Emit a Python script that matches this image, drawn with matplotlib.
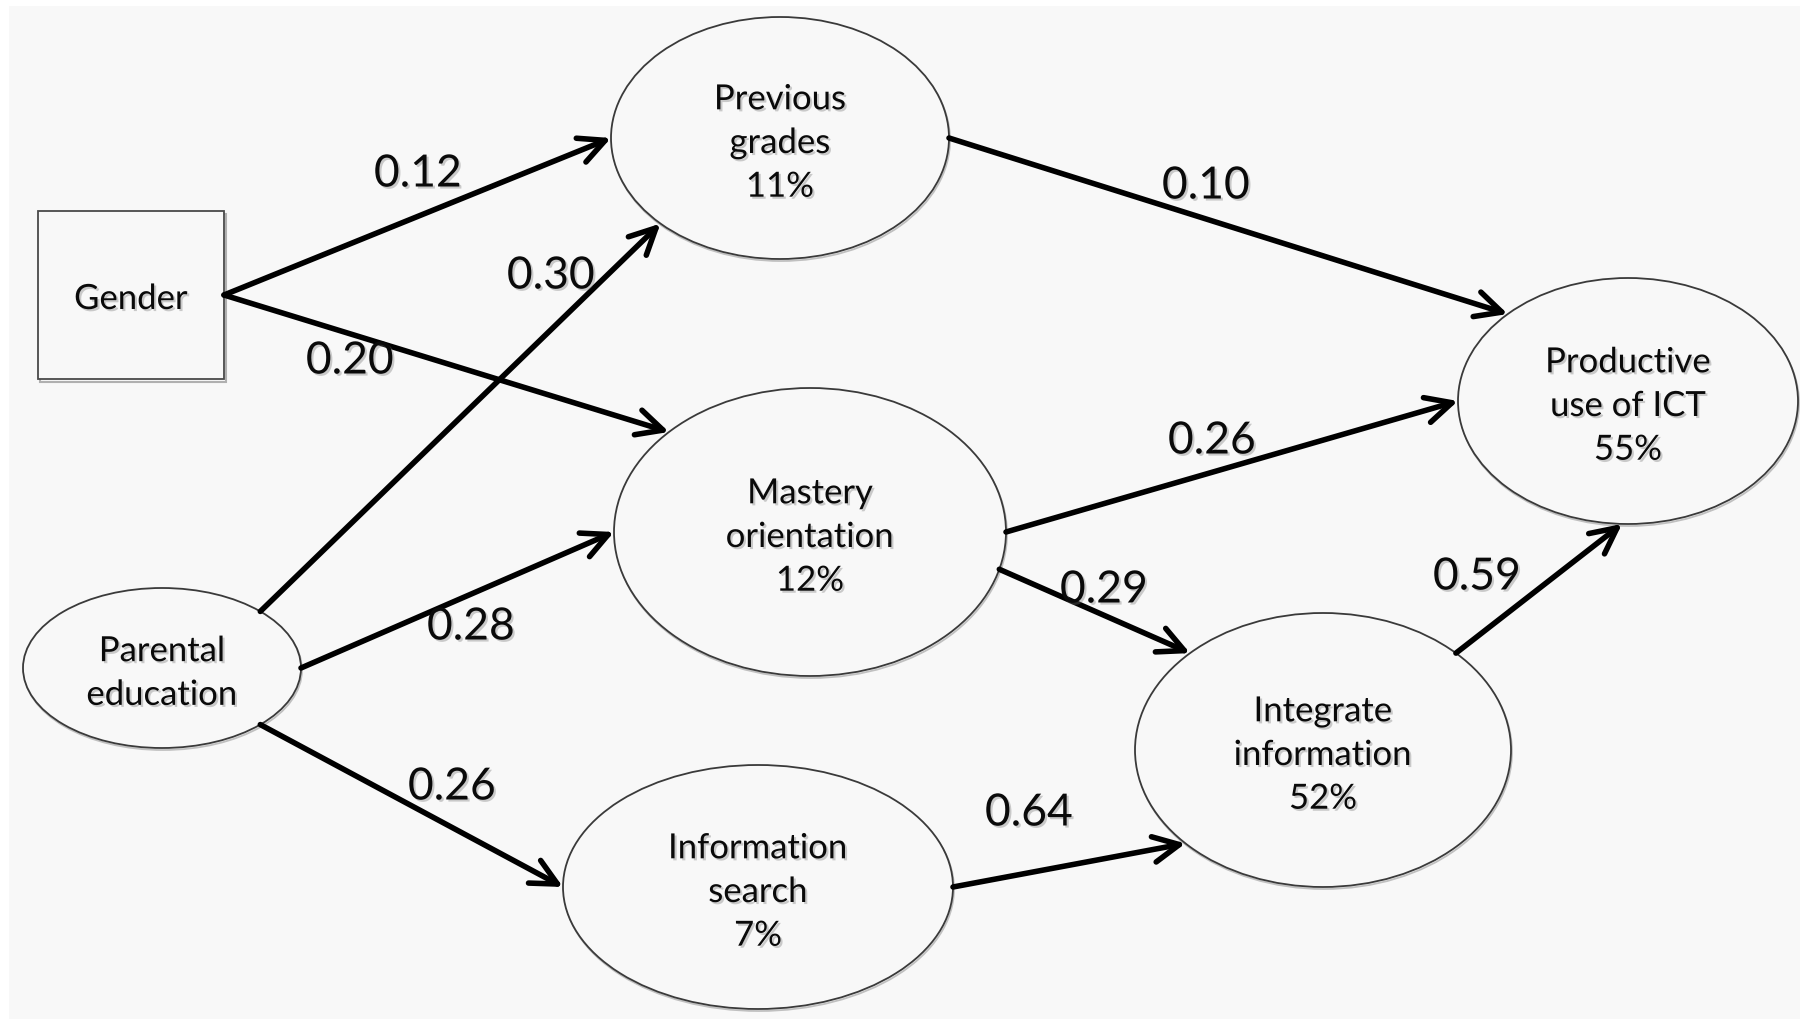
import matplotlib.pyplot as plt
from matplotlib.patches import Ellipse, Rectangle, FancyArrowPatch
import matplotlib.patheffects as pe
import numpy as np

plt.rcParams['font.family'] = ['Lato', 'DejaVu Sans']

# data: path model
node_names = ["Gender", "Parental\neducation", "Previous\ngrades", "Mastery\norientation",
              "Information\nsearch", "Integrate\ninformation", "Productive\nuse of ICT"]
r_squared = [None, None, 11, 12, 7, 52, 55]   # explained variance, %
path_from = [0, 0, 1, 1, 1, 2, 3, 3, 4, 5]
path_to = [2, 3, 2, 3, 4, 6, 6, 5, 5, 6]
path_coef = [0.12, 0.20, 0.30, 0.28, 0.26, 0.10, 0.26, 0.29, 0.64, 0.59]

# layout (pixel canvas, y down)
W, H = 1800, 1019
node_xy = [(131, 295), (162, 668), (780, 138), (810, 532), (758, 887), (1323, 750), (1628, 401)]
node_r = [(93, 84), (139, 80), (169, 121), (196, 144), (195, 122), (188, 137), (170, 123)]
# connection angles (deg) on the source / target outline
ang_from = [0, 0, 45, 0, -45, 0, 0, -15, 0, 45]
ang_to = [180, 136, 225, 180, 180, 135, 180, 135, 223, 268]
label_xy = [(418, 174), (350, 361), (551, 276), (471, 627), (452, 787),
            (1206, 186), (1212, 441), (1104, 590), (1029, 813), (1477, 577)]

BG = '#f8f8f8'
shadow = [pe.withSimplePatchShadow(offset=(1.5, -1.5), shadow_rgbFace='0.45', alpha=0.35)]


def anchor(i, deg):
    cx, cy = node_xy[i]
    rx, ry = node_r[i]
    t = np.deg2rad(deg)
    return cx + rx * np.cos(t), cy - ry * np.sin(t)


fig = plt.figure(figsize=(W / 100, H / 100), dpi=100)
fig.patch.set_facecolor('white')
ax = fig.add_axes([0, 0, 1, 1])
ax.set_xlim(0, W)
ax.set_ylim(H, 0)
ax.axis('off')
ax.add_patch(Rectangle((9, 6), W - 9, H - 6, facecolor=BG, edgecolor='none', zorder=0))

# nodes
for i, name in enumerate(node_names):
    cx, cy = node_xy[i]
    rx, ry = node_r[i]
    if i == 0:
        ax.add_patch(Rectangle((cx - rx + 2, cy - ry + 3), 2 * rx, 2 * ry, facecolor='none',
                               edgecolor='#b0b0b0', lw=1.5, zorder=1))
        ax.add_patch(Rectangle((cx - rx, cy - ry), 2 * rx, 2 * ry, facecolor=BG,
                               edgecolor='#4a4a4a', lw=1.3, zorder=2))
    else:
        ax.add_patch(Ellipse((cx + 1, cy + 2), 2 * rx, 2 * ry, facecolor='none',
                             edgecolor='#c0c0c0', lw=1.3, zorder=1))
        ax.add_patch(Ellipse((cx, cy), 2 * rx, 2 * ry, facecolor=BG,
                             edgecolor='#3a3a3a', lw=1.3, zorder=2))
    txt = name if r_squared[i] is None else f"{name}\n{r_squared[i]}%"
    ty = cy + 4 if i == 0 else cy + 5
    ax.text(cx, ty, txt, ha='center', va='center', fontsize=25, linespacing=1.45,
            color='#0a0a0a', zorder=5, path_effects=shadow)

# paths
for k in range(len(path_coef)):
    a = anchor(path_from[k], ang_from[k])
    b = anchor(path_to[k], ang_to[k])
    arr = FancyArrowPatch(a, b, arrowstyle='->,head_length=0.85,head_width=0.42',
                          mutation_scale=22, lw=4, color='black',
                          shrinkA=0, shrinkB=0, zorder=3)
    ax.add_patch(arr)
    lx, ly = label_xy[k]
    ax.text(lx, ly, f"{path_coef[k]:.2f}", ha='center', va='center', fontsize=32,
            color='#0a0a0a', zorder=6, path_effects=shadow)

fig.savefig('out.png', dpi=100, facecolor=fig.get_facecolor())
